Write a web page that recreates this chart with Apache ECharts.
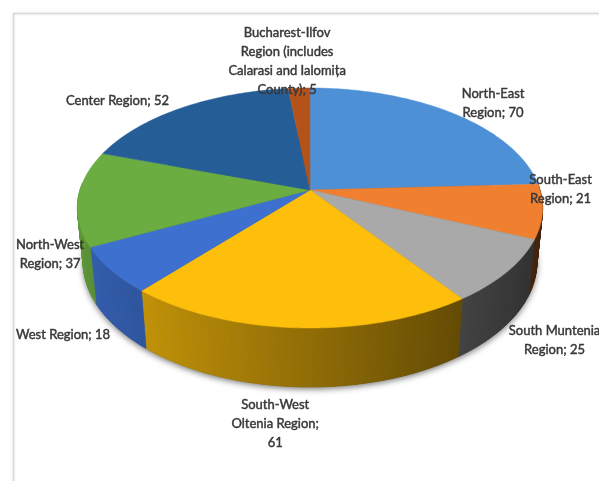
<!DOCTYPE html>
<html><head><meta charset="utf-8">
<script src="https://cdn.jsdelivr.net/npm/echarts@6/dist/echarts.min.js"></script>
<style>html,body{margin:0;padding:0;background:#fff}#c{width:599px;height:481px}</style>
</head><body><div id="c"></div>
<script>
// ---- data ----
const categories = ['North-East\nRegion', 'South-East\nRegion', 'South Muntenia\nRegion', 'South-West\nOltenia Region', 'West Region', 'North-West\nRegion', 'Center Region', 'Bucharest-Ilfov\nRegion (includes\nCalarasi and Ialomița\nCounty)'];
const values = [70, 21, 25, 61, 18, 37, 52, 5];

// ---- style / layout ----
const labelSep = ['; ', '; ', '; ', ';\n', '; ', '; ', '; ', '; '];
const topColors = ['#4d90d6', '#f07f2f', '#a9a9a9', '#fdbf0b', '#3d70cf', '#6cad42', '#255e96', '#b5521a'];
const labelOffsets = [[40, -10], [18, -22], [47, 69], [-23, 96], [-48, 65], [-28, 56], [-64, -7], [-12, -27]];
const CX = 310, CY = 190, F = 1318.6, D = 5.733, SA = 0.51, CA = Math.sqrt(1 - SA * SA), H = 0.278;

const total = values.reduce((a, b) => a + b, 0);
const starts = [];
let acc = 0;
values.forEach(v => { starts.push(acc); acc += v; });
const ang = v => v / total * Math.PI * 2;

function proj(phi, r, y) {
  const X = r * Math.sin(phi), Z = r * Math.cos(phi);
  const yc = y * CA + Z * SA, zc = D + Z * CA - y * SA;
  return [CX + F * X / zc, CY - F * yc / zc];
}
function shade(hex, f) {
  const n = parseInt(hex.slice(1), 16);
  const r = Math.min(255, Math.round(((n >> 16) & 255) * f));
  const g = Math.min(255, Math.round(((n >> 8) & 255) * f));
  const b = Math.min(255, Math.round((n & 255) * f));
  return 'rgb(' + r + ',' + g + ',' + b + ')';
}

function sideItem(params, api) {
  const i = params.dataIndex;
  const a0 = ang(starts[i]), a1 = ang(starts[i] + api.value(0));
  const children = [];
  if (i === 0) {
    const pts = [];
    for (let k = 0; k <= 180; k++) pts.push(proj(k / 180 * Math.PI * 2, 1, -H));
    children.push({ type: 'polygon', z2: -1, shape: { points: pts },
      style: { fill: '#444', shadowBlur: 6, shadowColor: 'rgba(0,0,0,0.55)', shadowOffsetY: 2 } });
  }
  const n = Math.max(2, Math.ceil((a1 - a0) / (Math.PI / 180)));
  for (let j = 0; j < n; j++) {
    const pa = a0 + (a1 - a0) * j / n, pb = a0 + (a1 - a0) * (j + 1) / n;
    const mid = (pa + pb) / 2;
    if (Math.cos(mid) > 0.05) continue;
    const f = 0.57 - 0.3 * Math.sin(mid);
    const c = shade(topColors[i], f);
    children.push({ type: 'polygon', shape: { points: [proj(pa, 1, 0), proj(pb, 1, 0), proj(pb, 1, -H), proj(pa, 1, -H)] },
      style: { fill: c, stroke: c, lineWidth: 0.8 } });
  }
  return { type: 'group', children };
}

function topItem(params, api) {
  const i = params.dataIndex;
  const a0 = ang(starts[i]), a1 = ang(starts[i] + api.value(0));
  const n = Math.max(2, Math.ceil((a1 - a0) / (Math.PI / 180)));
  const pts = [[CX, CY]];
  for (let j = 0; j <= n; j++) pts.push(proj(a0 + (a1 - a0) * j / n, 1, 0));
  return { type: 'polygon', shape: { points: pts }, style: { fill: topColors[i], stroke: topColors[i], lineWidth: 0.5 } };
}

function labelItem(params, api) {
  const i = params.dataIndex;
  const mid = ang(starts[i] + api.value(0) / 2);
  const p = proj(mid, 1, 0);
  return { type: 'text', x: p[0] + labelOffsets[i][0], y: p[1] + labelOffsets[i][1],
    style: { text: categories[i] + labelSep[i] + api.value(0), font: '13px Lato', fill: '#383838',
      stroke: '#383838', lineWidth: 0.45,
      align: 'center', verticalAlign: 'middle', lineHeight: 19 } };
}

const chart = echarts.init(document.getElementById('c'), null, { renderer: 'canvas' });
chart.setOption({
  animation: false,
  backgroundColor: '#fff',
  graphic: [{ type: 'rect', left: 11, top: 11, silent: true,
    shape: { width: 640, height: 520 },
    style: { fill: 'none', stroke: '#d9d9d9', lineWidth: 1.5, shadowBlur: 3, shadowColor: 'rgba(0,0,0,0.12)' } }],
  series: [
    { type: 'custom', coordinateSystem: 'none', z: 1, renderItem: sideItem, data: values, silent: true },
    { type: 'custom', coordinateSystem: 'none', z: 2, renderItem: topItem, data: values, silent: true },
    { type: 'custom', coordinateSystem: 'none', z: 3, renderItem: labelItem, data: values, silent: true }
  ]
});
</script></body></html>
